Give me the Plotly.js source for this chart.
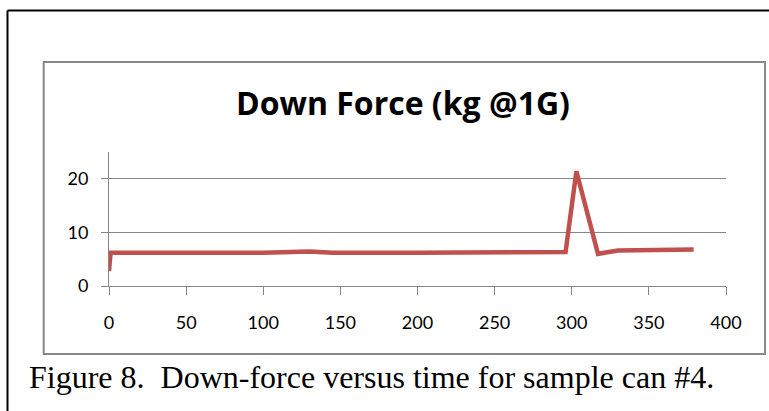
<!DOCTYPE html>
<html>
<head>
<meta charset="utf-8">
<script src="https://cdn.plot.ly/plotly-3.0.1.min.js"></script>
<style>
  html, body { margin: 0; padding: 0; background: #fff; }
  #chart { width: 769px; height: 411px; }
</style>
</head>
<body>
<div id="chart"></div>
<script>
// Data
const timeValues  = [0, 1, 50, 100, 130, 145, 200, 250, 296, 303, 317, 330, 350, 379];
const forceValues = [2.8, 6.2, 6.2, 6.2, 6.45, 6.2, 6.2, 6.3, 6.35, 21.4, 6.0, 6.6, 6.6, 6.8];
const xTickValues = [0, 50, 100, 150, 200, 250, 300, 350, 400];
const yTickValues = [0, 10, 20];
const chartTitle = 'Down Force (kg @1G)';
const captionText = 'Figure 8.&nbsp;&nbsp;Down-force versus time for sample can #4.';

// pixel -> paper helpers (plot area: x 109..726, y 286..152)
const L = 109, R = 726, B = 286, T = 152;
const px = p => (p - L) / (R - L);
const py = p => (B - p) / (B - T);

const trace = {
  x: timeValues,
  y: forceValues,
  type: 'scatter',
  mode: 'lines',
  line: { color: '#C0504D', width: 4.5 },
  hoverinfo: 'skip'
};

const layout = {
  width: 769, height: 411,
  margin: { l: L, r: 769 - R, t: T, b: 411 - B, pad: 0 },
  paper_bgcolor: '#ffffff',
  plot_bgcolor: '#ffffff',
  showlegend: false,
  title: {
    text: '<b>' + chartTitle + '</b>',
    font: { family: '"Open Sans", Lato, sans-serif', size: 32, color: '#000000' },
    xref: 'paper', x: px(403), xanchor: 'center',
    yref: 'container', y: 1 - 104 / 411, yanchor: 'middle'
  },
  xaxis: {
    range: [0, 400],
    tickvals: xTickValues,
    ticks: 'outside', ticklen: 8, tickwidth: 1, tickcolor: '#868686',
    showline: true, linecolor: '#868686', linewidth: 1,
    showgrid: false, zeroline: false,
    ticklabelstandoff: 12,
    tickfont: { family: 'Lato, "Open Sans", sans-serif', size: 18, color: '#000000' },
    fixedrange: true
  },
  yaxis: {
    range: [0, 25],
    tickvals: yTickValues,
    ticks: 'outside', ticklen: 7, tickwidth: 1, tickcolor: '#868686',
    showline: true, linecolor: '#868686', linewidth: 1,
    showgrid: true, gridcolor: '#868686', gridwidth: 1,
    zeroline: false,
    ticklabelstandoff: 9,
    tickfont: { family: 'Lato, "Open Sans", sans-serif', size: 18, color: '#000000' },
    fixedrange: true
  },
  shapes: [
    // chart frame
    { type: 'rect', xref: 'paper', yref: 'paper',
      x0: px(43.7), x1: px(765), y0: py(354), y1: py(62),
      line: { color: '#888888', width: 2 }, fillcolor: 'rgba(0,0,0,0)', layer: 'below' },
    // outer page frame (top and left)
    { type: 'line', xref: 'paper', yref: 'paper',
      x0: px(7.5), x1: px(775), y0: py(10.5), y1: py(10.5),
      line: { color: '#000000', width: 2 } },
    { type: 'line', xref: 'paper', yref: 'paper',
      x0: px(7.5), x1: px(7.5), y0: py(10.5), y1: py(420),
      line: { color: '#000000', width: 2 } }
  ],
  annotations: [
    { text: captionText, showarrow: false,
      xref: 'paper', yref: 'paper', x: px(27), xanchor: 'left',
      y: py(377), yanchor: 'middle',
      font: { family: '"Liberation Serif", "Times New Roman", serif', size: 32, color: '#000000' } }
  ]
};

Plotly.newPlot('chart', [trace], layout, { staticPlot: true, displayModeBar: false });
</script>
</body>
</html>
